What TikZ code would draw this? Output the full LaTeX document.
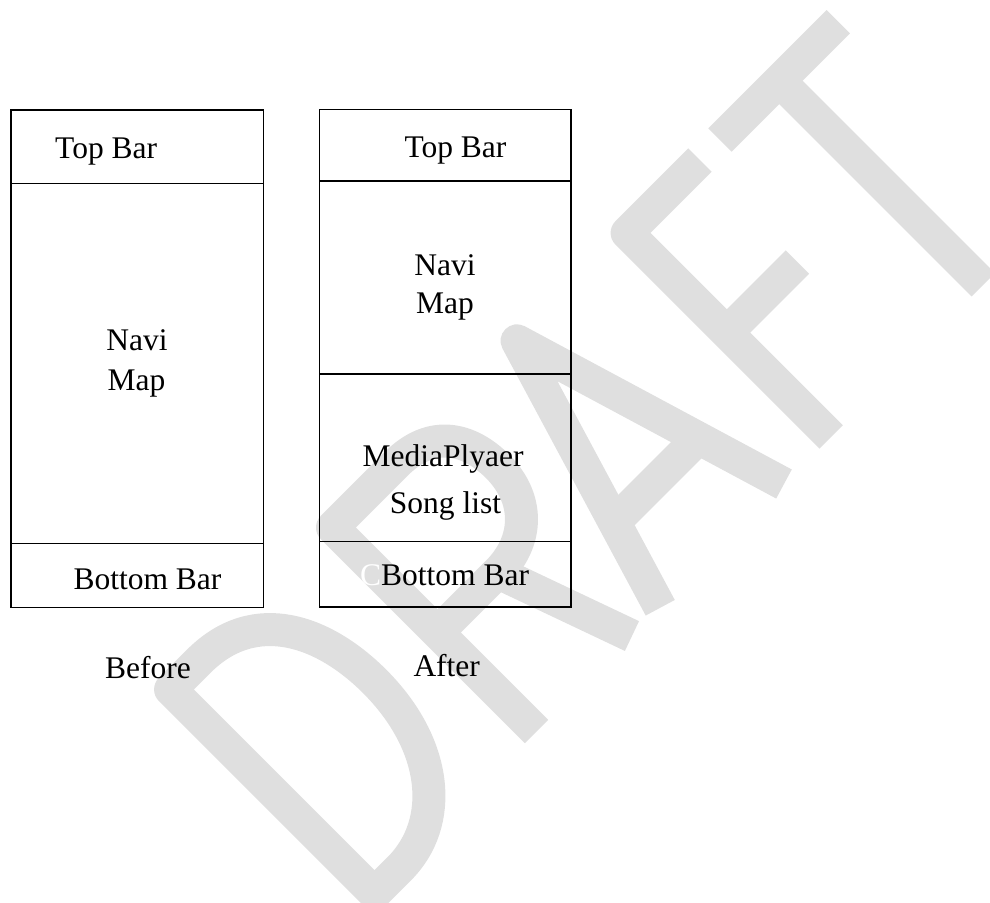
\documentclass[tikz,border=0pt]{standalone}
\usepackage{fontspec}
\setmainfont{Liberation Serif}
\definecolor{wm}{RGB}{223,223,223}
\begin{document}
\begin{tikzpicture}[x=1pt,y=-1pt,
  wmstroke/.style={draw=wm, line width=33pt, line join=round, line cap=butt},
  panel/.style={draw=black, line width=1.2pt, anchor=north west, inner sep=0pt, outer sep=0pt},
  lbl/.style={font=\fontsize{31.5}{38}\selectfont, inner sep=0pt, anchor=base west},
  clbl/.style={font=\fontsize{31.5}{38}\selectfont, inner sep=0pt, anchor=base}]
\useasboundingbox (0,0) rectangle (990,902);
% watermark
\begin{scope}
\clip (0,0) rectangle (990,902);
\begin{scope}[shift={(536.5pt,-731.5pt)}, x={(0.70711pt,0.70711pt)}, y={(-0.70711pt,0.70711pt)}]
 % D
 \draw[wmstroke] (-189,288.5) .. controls (-109,288.5) and (-79,220) .. (-79,150) .. controls (-79,60) and (-129,0) .. (-194,0) -- (-229,0) -- (-229,288.5) -- cycle;
 % R
 \draw[wmstroke] (0,0) -- (0,288.5) -- (90,288.5) .. controls (140,288.5) and (160,255) .. (160,215) .. controls (160,170) and (130,140) .. (85,140) -- (0,140);
 \draw[wmstroke] (85,140) -- (135,0);
 % A
 \draw[wmstroke] (175,0) -- (262.5,290) -- (350,0);
 \draw[wmstroke] (203,93) -- (322,93);
 % F
 \draw[wmstroke] (416.6,0) -- (416.6,288.5) -- (519.7,288.5);
 \draw[wmstroke] (416.6,147.4) -- (516.4,147.4);
 % T
 \draw[wmstroke] (548,288.5) -- (715.3,288.5);
 \draw[wmstroke] (631.8,288.5) -- (631.8,0);
\end{scope}
\end{scope}
% Before column
\node[panel, minimum width=252.3pt, minimum height=73.3pt] (btop) at (11,110) {};
\node[panel, minimum width=252.3pt, minimum height=360pt] (bmap) at (11,183.3) {};
\node[panel, minimum width=252.3pt, minimum height=64pt] (bbot) at (11,543.3) {};
\node[lbl] (btoptxt) at (55,158.3) {Top Bar};
\node[clbl] (bnavi) at (137,350.7) {Navi};
\node[clbl] (bmaptxt) at (136.5,390) {Map};
\node[lbl] (bbottxt) at (73.3,589) {Bottom Bar};
\node[lbl] (before) at (105,678.3) {Before};
% After column
\node[panel, minimum width=251.7pt, minimum height=71.7pt] (atop) at (319.3,109.3) {};
\node[panel, minimum width=251.7pt, minimum height=193pt] (amap) at (319.3,181) {};
\node[panel, minimum width=251.7pt, minimum height=167.7pt] (amedia) at (319.3,374) {};
\node[panel, minimum width=251.7pt, minimum height=65.3pt] (abot) at (319.3,541.7) {};
\node[lbl] (atoptxt) at (404.3,157.3) {Top Bar};
\node[clbl] (anavi) at (445,275) {Navi};
\node[clbl] (amaptxt) at (445,313.3) {Map};
\node[clbl] (amediatxt) at (443,466.7) {MediaPlyaer};
\node[clbl] (asong) at (445.5,513.3) {Song list};
\node[lbl] (abottxt) at (360,585) {{\color{white}C}Bottom Bar};
\node[lbl] (after) at (413.3,676.7) {After};
\end{tikzpicture}
\end{document}
